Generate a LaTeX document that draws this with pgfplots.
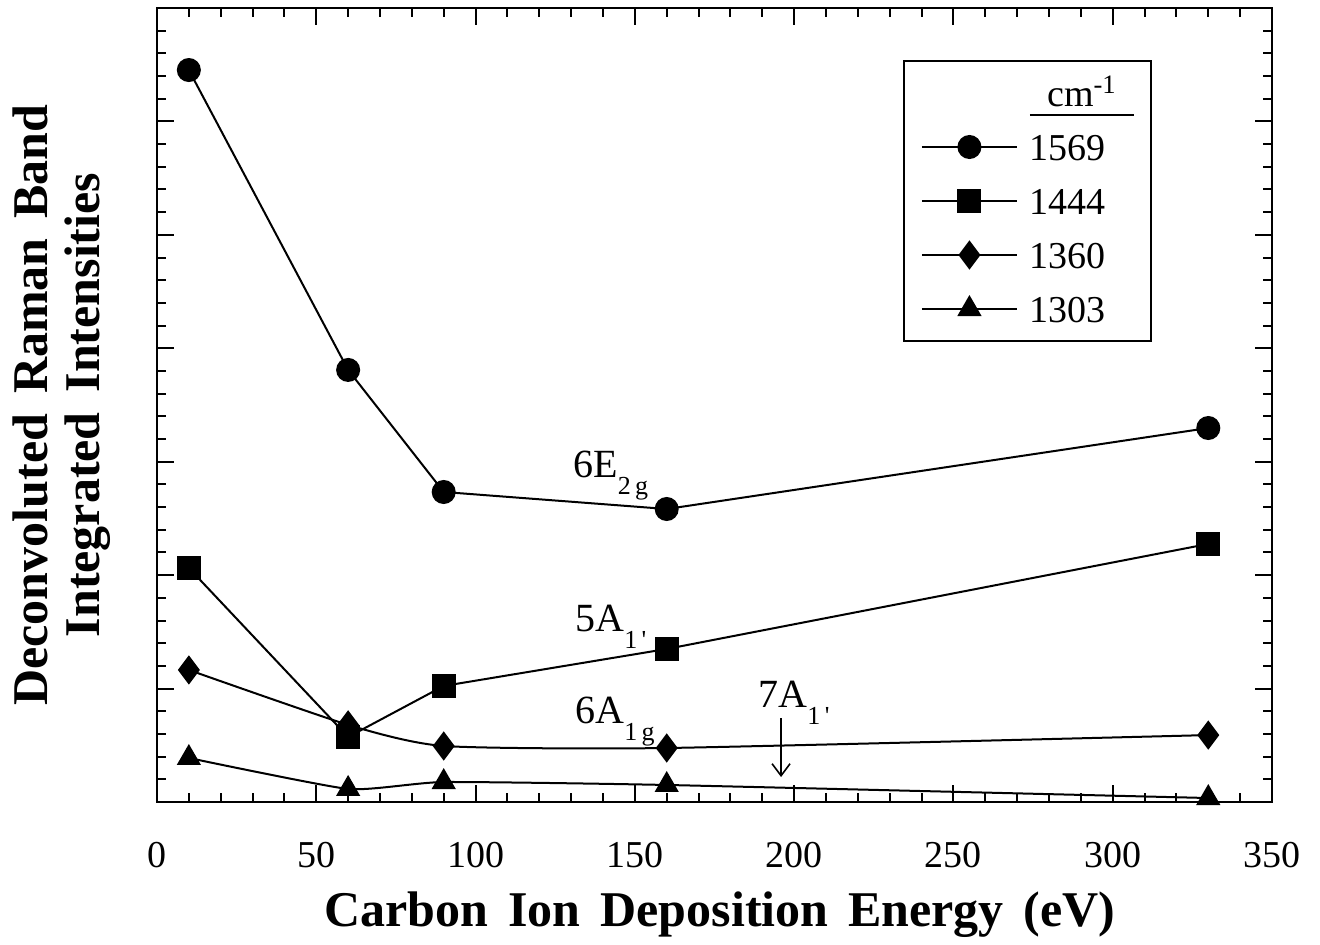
\documentclass[border=0pt]{standalone}
\usepackage{fontspec}
\setmainfont{Liberation Serif}
\usepackage{pgfplots}
\pgfplotsset{compat=1.18}
\usetikzlibrary{arrows.meta}
\newcommand{\sub}[1]{\raisebox{-8.5pt}{\fontsize{13}{13}\selectfont #1}}
\newcommand{\gap}{\hspace{0.4em}}
\begin{document}
\begin{tikzpicture}
\path[use as bounding box] (-78.5pt,-71.5pt) rectangle (581.5pt,401pt);
\begin{axis}[
  scale only axis,
  width=557.5pt, height=397pt,
  xmin=0, xmax=350, ymin=0, ymax=7,
  xtick={0,50,...,350},
  minor x tick num=4,
  ytick={0,1,...,7},
  minor y tick num=4,
  yticklabels={},
  tick align=inside,
  major tick length=8.5pt,
  minor tick length=4.5pt,
  axis line style={line width=1.25pt},
  every tick/.style={black, line width=1pt},
  /pgf/number format/assume math mode=true,
  xticklabel style={font=\fontsize{19}{19}\selectfont, inner sep=0pt, yshift=-20pt},
  xlabel={Carbon\gap Ion\gap Deposition\gap Energy\gap (eV)},
  xlabel style={font=\fontsize{25}{25}\selectfont\bfseries, at={(axis description cs:0.505,-0.113)}, anchor=north, inner sep=0pt},
  ylabel={Deconvoluted\gap Raman\gap Band\\Integrated\gap Intensities},
  ylabel style={font=\fontsize{25}{26}\selectfont\bfseries, align=center, at={(axis description cs:-0.041,0.5)}, anchor=south, inner sep=0pt},
  clip=false,
  legend style={at={(axis description cs:0.669,0.9345)}, anchor=north west,
    draw=black, line width=1pt, fill=white,
    inner xsep=8.5pt, inner ysep=9.5pt, row sep=14pt, column sep=6pt,
    font=\fontsize{19}{19}\selectfont,
    nodes={inner sep=0pt, text height=13pt, text depth=0pt}},
  legend cell align=left,
  legend image code/.code={\draw[mark repeat=2,mark phase=2,line width=1pt] plot coordinates {(0pt,0pt)(23.75pt,0pt)(47.5pt,0pt)};},
]
\addlegendimage{empty legend}
\addlegendentry{\makebox[52pt]{cm\textsuperscript{-1}}\llap{\rule[-5pt]{52pt}{0.9pt}}}

\addplot[black, line width=1pt, mark=*, mark size=5.5pt] coordinates {
(10,6.453) (60,3.809) (90,2.733) (160,2.583) (330,3.297)};
\addlegendentry{1569}

\addplot[black, line width=1pt, mark=square*, mark size=5.5pt] coordinates {
(10,2.063) (60,0.573) (90,1.023) (160,1.349) (330,2.275)};
\addlegendentry{1444}

\addplot[black, line width=1pt, smooth, tension=0.35, mark=diamond*, mark size=6.5pt] coordinates {
(10,1.164) (60,0.68) (90,0.494) (160,0.476) (330,0.59)};
\addlegendentry{1360}

\addplot[black, line width=1pt, smooth, tension=0.3, mark=triangle*, mark size=6pt] coordinates {
(10,0.388) (60,0.115) (90,0.176) (160,0.15) (330,0.035)};
\addlegendentry{1303}

\node[anchor=base west, inner sep=0pt, font=\fontsize{20}{20}\selectfont] at (axis cs:130.6,2.865) {6E\sub{2\,g}};
\node[anchor=base west, inner sep=0pt, font=\fontsize{20}{20}\selectfont] at (axis cs:131.2,1.499) {5A\sub{1\,\textquotesingle}};
\node[anchor=base west, inner sep=0pt, font=\fontsize{20}{20}\selectfont] at (axis cs:131.2,0.696) {6A\sub{1\,g}};
\node[anchor=base west, inner sep=0pt, font=\fontsize{20}{20}\selectfont] at (axis cs:188.7,0.829) {7A\sub{1\,\textquotesingle}};
\draw[line width=0.8pt, -{Straight Barb[length=6pt,width=9pt]}] (axis cs:195.9,0.74) -- (axis cs:195.9,0.22);
\end{axis}
\end{tikzpicture}
\end{document}
